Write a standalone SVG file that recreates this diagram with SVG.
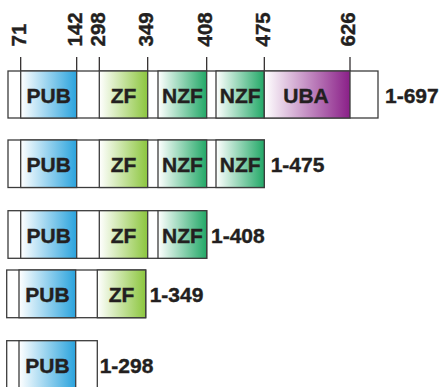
<svg xmlns="http://www.w3.org/2000/svg" width="441" height="387" viewBox="0 0 441 387">
  <style>
    .box{fill:#ffffff;stroke:#3c3c3c;stroke-width:1.3}
    .dom{stroke:#3c3c3c;stroke-width:1.3}
    .tick{stroke:#231f20;stroke-width:1.2}
    .lbl{font-family:"Liberation Sans",Arial,sans-serif;font-weight:bold;font-size:21px;fill:#231f20;stroke:#231f20;stroke-width:0.4;text-anchor:middle}
    .len{font-family:"Liberation Sans",Arial,sans-serif;font-weight:bold;font-size:21px;fill:#231f20;stroke:#231f20;stroke-width:0.4}
    .pos{font-family:"Liberation Sans",Arial,sans-serif;font-weight:bold;font-size:20.5px;fill:#231f20;stroke:#231f20;stroke-width:0.4}
  </style>
  <defs>
    <linearGradient id="gPUB" x1="0" y1="0" x2="1" y2="0">
      <stop offset="0" stop-color="#ffffff"/>
      <stop offset="1" stop-color="#2aa3dd"/>
    </linearGradient>
    <linearGradient id="gZF" x1="0" y1="0" x2="1" y2="0">
      <stop offset="0" stop-color="#ffffff"/>
      <stop offset="1" stop-color="#8cc63e"/>
    </linearGradient>
    <linearGradient id="gNZF" x1="0" y1="0" x2="1" y2="0">
      <stop offset="0" stop-color="#ffffff"/>
      <stop offset="1" stop-color="#22a867"/>
    </linearGradient>
    <linearGradient id="gUBA" x1="0" y1="0" x2="1" y2="0">
      <stop offset="0" stop-color="#ffffff"/>
      <stop offset="1" stop-color="#8a1f88"/>
    </linearGradient>
  </defs>

  <g id="positions">
    <text class="pos" transform="translate(26,46.5) rotate(-90)">71</text>
    <text class="pos" transform="translate(82,46.5) rotate(-90)">142</text>
    <text class="pos" transform="translate(104.5,46.5) rotate(-90)">298</text>
    <text class="pos" transform="translate(153,46.5) rotate(-90)">349</text>
    <text class="pos" transform="translate(212,46.5) rotate(-90)">408</text>
    <text class="pos" transform="translate(269.5,46.5) rotate(-90)">475</text>
    <text class="pos" transform="translate(355.3,46.5) rotate(-90)">626</text>
  </g>

  <g id="connectors">
    <line class="tick" x1="20.7" y1="57" x2="20.7" y2="71"/>
    <line class="tick" x1="76.7" y1="57" x2="76.7" y2="71"/>
    <line class="tick" x1="99.3" y1="57" x2="99.3" y2="71"/>
    <line class="tick" x1="147.7" y1="57" x2="147.7" y2="71"/>
    <line class="tick" x1="206.7" y1="57" x2="206.7" y2="71"/>
    <line class="tick" x1="264.3" y1="57" x2="264.3" y2="71"/>
    <line class="tick" x1="350" y1="57" x2="350" y2="71"/>
  </g>

  <g id="row-1-697">
    <rect class="box" x="8" y="71" width="370" height="47"/>
    <g id="r1-pub"><rect class="dom" fill="url(#gPUB)" x="20.7" y="71" width="56" height="47"/><text class="lbl" x="48.7" y="102.5">PUB</text></g>
    <g id="r1-zf"><rect class="dom" fill="url(#gZF)" x="99.3" y="71" width="48.4" height="47"/><text class="lbl" x="123.5" y="102.5">ZF</text></g>
    <g id="r1-nzf1"><rect class="dom" fill="url(#gNZF)" x="158" y="71" width="48.7" height="47"/><text class="lbl" x="182.4" y="102.5">NZF</text></g>
    <g id="r1-nzf2"><rect class="dom" fill="url(#gNZF)" x="216" y="71" width="48.3" height="47"/><text class="lbl" x="240.2" y="102.5">NZF</text></g>
    <g id="r1-uba"><rect class="dom" fill="url(#gUBA)" x="264.3" y="71" width="85.7" height="47"/><text class="lbl" x="306" y="102.5">UBA</text></g>
    <text class="len" x="385" y="102.5">1-697</text>
  </g>

  <g id="row-1-475">
    <rect class="box" x="8" y="140" width="256.3" height="47.5"/>
    <g id="r2-pub"><rect class="dom" fill="url(#gPUB)" x="20.7" y="140" width="56" height="47.5"/><text class="lbl" x="48.7" y="171.8">PUB</text></g>
    <g id="r2-zf"><rect class="dom" fill="url(#gZF)" x="99.3" y="140" width="48.4" height="47.5"/><text class="lbl" x="123.5" y="171.8">ZF</text></g>
    <g id="r2-nzf1"><rect class="dom" fill="url(#gNZF)" x="158" y="140" width="48.7" height="47.5"/><text class="lbl" x="182.4" y="171.8">NZF</text></g>
    <g id="r2-nzf2"><rect class="dom" fill="url(#gNZF)" x="216" y="140" width="48.3" height="47.5"/><text class="lbl" x="240.2" y="171.8">NZF</text></g>
    <text class="len" x="270.7" y="171.8">1-475</text>
  </g>

  <g id="row-1-408">
    <rect class="box" x="8" y="210.7" width="198.7" height="47.6"/>
    <g id="r3-pub"><rect class="dom" fill="url(#gPUB)" x="20.7" y="210.7" width="56" height="47.6"/><text class="lbl" x="48.7" y="242.5">PUB</text></g>
    <g id="r3-zf"><rect class="dom" fill="url(#gZF)" x="99.3" y="210.7" width="48.4" height="47.6"/><text class="lbl" x="123.5" y="242.5">ZF</text></g>
    <g id="r3-nzf1"><rect class="dom" fill="url(#gNZF)" x="158" y="210.7" width="48.7" height="47.6"/><text class="lbl" x="182.4" y="242.5">NZF</text></g>
    <text class="len" x="211" y="242.5">1-408</text>
  </g>

  <g id="row-1-349">
    <rect class="box" x="6.7" y="270" width="139" height="47.7"/>
    <g id="r4-pub"><rect class="dom" fill="url(#gPUB)" x="19" y="270" width="56.7" height="47.7"/><text class="lbl" x="47.4" y="301.8">PUB</text></g>
    <g id="r4-zf"><rect class="dom" fill="url(#gZF)" x="97.3" y="270" width="48.4" height="47.7"/><text class="lbl" x="121.5" y="301.8">ZF</text></g>
    <text class="len" x="149.7" y="301.8">1-349</text>
  </g>

  <g id="row-1-298">
    <rect class="box" x="6.7" y="340.7" width="90.6" height="48"/>
    <g id="r5-pub"><rect class="dom" fill="url(#gPUB)" x="19" y="340.7" width="56.7" height="48"/><text class="lbl" x="47.4" y="372.5">PUB</text></g>
    <text class="len" x="99.7" y="372.5">1-298</text>
  </g>
</svg>
